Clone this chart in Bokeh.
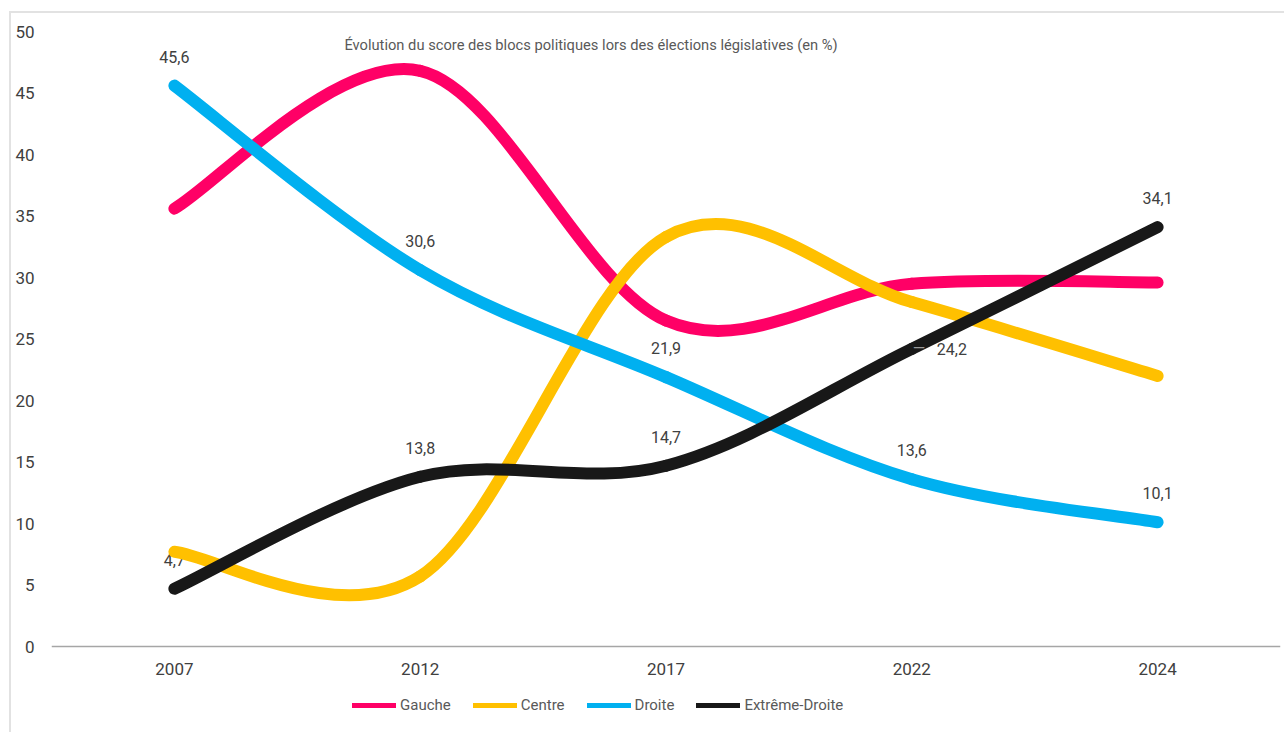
from bokeh.plotting import figure
from bokeh.models import (Range1d, FixedTicker, Legend, LegendItem, Label,
                          ColumnDataSource, LinearAxis)
from bokeh.core.properties import value
from bokeh.embed import file_html
from bokeh.resources import INLINE

# ---- data -------------------------------------------------------------
years = ["2007", "2012", "2017", "2022", "2024"]
gauche = [35.6, 46.8, 26.5, 29.5, 29.6]
centre = [7.7, 5.7, 33.3, 28.0, 22.0]
droite = [45.6, 30.6, 21.9, 13.6, 10.1]
extreme_droite = [4.7, 13.8, 14.7, 24.2, 34.1]
series_names = ["Gauche", "Centre", "Droite", "Extrême-Droite"]
series_values = [gauche, centre, droite, extreme_droite]
colors = ["#FF0066", "#FFC000", "#00B0F0", "#181818"]
labelled_series = ["Droite", "Extrême-Droite"]
title_text = "Évolution du score des blocs politiques lors des élections législatives (en %)"
y_max = 50
y_step = 5

FONT = "Roboto"

# ---- layout (pixels) -------------------------------------------------
W, H = 1275, 721
BL, BR, BT, BB = 40, 6, 18, 5
AXIS_SPAN = 615          # pixels between value 0 and value y_max
frame_h = H - BT - BB
y_min = y_max - frame_h * y_max / AXIS_SPAN   # room under 0 for labels & legend

p = figure(width=W, height=H, output_backend="svg", toolbar_location=None,
           x_range=Range1d(-0.5, len(years) - 0.5), y_range=Range1d(y_min, y_max),
           x_axis_location=None,
           min_border_left=BL, min_border_right=BR, min_border_top=BT, min_border_bottom=BB)
p.styles = {"border-left": "2px solid #e2e2e2", "border-top": "2px solid #e2e2e2",
            "margin-left": "9px", "margin-top": "11px"}
p.outline_line_color = None
p.background_fill_color = "white"
p.border_fill_color = "white"
p.grid.visible = False

# category axis sitting on value 0
xaxis = LinearAxis(fixed_location=0)
xaxis.ticker = FixedTicker(ticks=list(range(len(years))))
xaxis.major_label_overrides = {i: y for i, y in enumerate(years)}
xaxis.axis_line_color = "#a6a6a6"
xaxis.axis_line_width = 1.5
xaxis.major_tick_line_color = None
xaxis.major_tick_out = 0
xaxis.major_tick_in = 0
xaxis.minor_tick_line_color = None
xaxis.major_label_text_font = FONT
xaxis.major_label_text_font_size = "17px"
xaxis.major_label_text_color = "#404040"
xaxis.major_label_standoff = 16
p.add_layout(xaxis, "below")

p.yaxis.ticker = FixedTicker(ticks=list(range(0, y_max + 1, y_step)))
p.yaxis.axis_line_color = None
p.yaxis.major_tick_line_color = None
p.yaxis.major_tick_out = 0
p.yaxis.major_tick_in = 0
p.yaxis.minor_tick_line_color = None
p.yaxis.major_label_text_font = FONT
p.yaxis.major_label_text_font_size = "17px"
p.yaxis.major_label_text_color = "#404040"
p.yaxis.major_label_standoff = 17


def fmt(v):
    return f"{v:.1f}".replace(".", ",")


# ---- data labels (drawn beneath the lines) ---------------------------
above = dict(x=[], y=[], t=[])
right = dict(x=[], y=[], t=[])
for name, vals in zip(series_names, series_values):
    if name not in labelled_series:
        continue
    for i, v in enumerate(vals):
        tgt = right if (name == "Extrême-Droite" and years[i] == "2022") else above
        tgt["x"].append(i)
        tgt["y"].append(v)
        tgt["t"].append(fmt(v))

right_src = ColumnDataSource(right)
p.text(x="x", y="y", text="t", source=ColumnDataSource(above), y_offset=-29,
       text_align="center", text_baseline="middle", text_font=value(FONT),
       text_font_size="16px", text_color="#404040")
p.text(x="x", y="y", text="t", source=right_src, x_offset=25,
       text_align="left", text_baseline="middle", text_font=value(FONT),
       text_font_size="16px", text_color="#404040")


# ---- smoothed lines (Catmull-Rom -> cubic Bezier, like Excel) --------
def bezier_source(vals):
    n = len(vals)
    pts = [(float(i), float(v)) for i, v in enumerate(vals)]
    d = dict(x0=[], y0=[], x1=[], y1=[], cx0=[], cy0=[], cx1=[], cy1=[])
    for i in range(n - 1):
        pm = pts[max(i - 1, 0)]
        pa = pts[i]
        pb = pts[i + 1]
        pn = pts[min(i + 2, n - 1)]
        d["x0"].append(pa[0]); d["y0"].append(pa[1])
        d["x1"].append(pb[0]); d["y1"].append(pb[1])
        d["cx0"].append(pa[0] + (pb[0] - pm[0]) / 6.0)
        d["cy0"].append(pa[1] + (pb[1] - pm[1]) / 6.0)
        d["cx1"].append(pb[0] - (pn[0] - pa[0]) / 6.0)
        d["cy1"].append(pb[1] - (pn[1] - pa[1]) / 6.0)
    return ColumnDataSource(d)


nan = float("nan")
items = []
for name, vals, c in zip(series_names, series_values, colors):
    p.bezier(x0="x0", y0="y0", x1="x1", y1="y1", cx0="cx0", cy0="cy0",
             cx1="cx1", cy1="cy1", source=bezier_source(vals),
             line_color=c, line_width=12, line_cap="round")
    # legend swatch (thinner than the plotted curve), draws nothing itself
    swatch = p.line(x=[nan], y=[nan], line_color=c, line_width=5, line_cap="round")
    items.append(LegendItem(label=name, renderers=[swatch]))

# leader dash of the label placed at the right of its point
p.text(x="x", y="y", text=value("—"), source=right_src, x_offset=1, y_offset=0,
       text_align="left", text_baseline="middle", text_font=value(FONT),
       text_font_size="16px", text_color="#9a9a9a")

legend = Legend(items=items, orientation="horizontal", location=(301, 14),
                glyph_width=44, glyph_height=20, label_standoff=4, spacing=22,
                padding=0, margin=0, border_line_color=None, background_fill_alpha=0,
                label_text_font=FONT, label_text_font_size="15px",
                label_text_color="#595959")
p.add_layout(legend)

p.add_layout(Label(x=539.5, y=frame_h - 13, x_units="screen", y_units="screen",
                   text=title_text, text_align="center", text_baseline="middle",
                   text_font=FONT, text_font_size="14.7px", text_color="#595959"))

open("out.html", "w").write(file_html(p, INLINE))
